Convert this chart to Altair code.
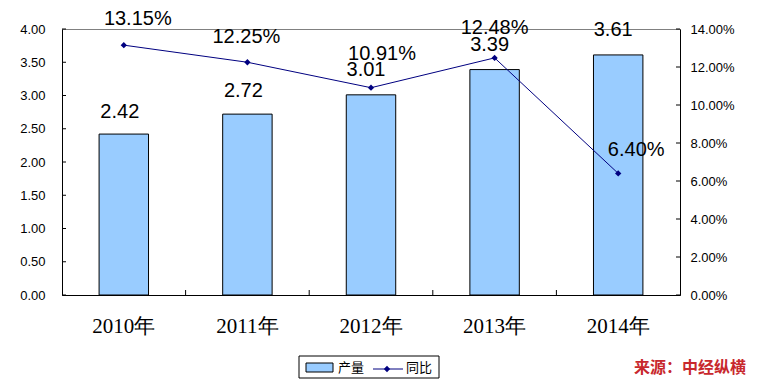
import altair as alt
import pandas as pd

years = ["2010年", "2011年", "2012年", "2013年", "2014年"]
output = [2.42, 2.72, 3.01, 3.39, 3.61]
growth = [0.1315, 0.1225, 0.1091, 0.1248, 0.0640]
output_labels = ["2.42", "2.72", "3.01", "3.39", "3.61"]
growth_labels = ["13.15%", "12.25%", "10.91%", "12.48%", "6.40%"]
left_ticks = [0, 0.5, 1.0, 1.5, 2.0, 2.5, 3.0, 3.5, 4.0]
right_ticks = [0, 0.02, 0.04, 0.06, 0.08, 0.10, 0.12, 0.14]
legend_names = ["产量", "同比"]
source_text = "来源：中经纵横"

W, H = 618, 266
NAVY = "#000080"
BAR = "#99CCFF"
SANS = "Liberation Sans"

# label nudges (pixels) as placed in the original chart
bar_label_nudge = [(-4, -12), (-4, -13), (-5, -15), (-5, -15), (-5, -15)]
growth_label_nudge = [(14, -16), (-1, -15), (11, -24), (0, -20), (18, -13)]

df = pd.DataFrame({"year": years, "output": output, "growth": growth,
                   "olab": output_labels, "glab": growth_labels})
lt = pd.DataFrame({"v": left_ticks})
rt = pd.DataFrame({"v": right_ticks})
bounds = pd.DataFrame({"year": years[1:]})
one = pd.DataFrame({"k": [0]})

xs = alt.Scale(domain=years, paddingInner=0, paddingOuter=0)
x_axis = alt.Axis(title=None, labelAngle=0, ticks=False, domainColor="black",
                  labelFont="Liberation Serif", labelFontSize=21, labelColor="black",
                  labelPadding=20, labelOverlap=False)
yl_scale = alt.Scale(domain=[0, 4], nice=False)
yr_scale = alt.Scale(domain=[0, 0.14], nice=False)
yl_axis = alt.Axis(title=None, values=left_ticks, format=".2f", ticks=False,
                   grid=False, domainColor="black", labelFont=SANS,
                   labelFontSize=13, labelColor="black", labelPadding=17,
                   labelOverlap=False, labelFlush=False, orient="left")
yr_axis = alt.Axis(title=None, values=right_ticks, format=".2%", ticks=False,
                   grid=False, domainColor="black", labelFont=SANS,
                   labelFontSize=13, labelColor="black", labelPadding=10,
                   labelOverlap=False, labelFlush=False, orient="right")

X = alt.X("year:N", scale=xs, axis=x_axis, sort=years)

bars = alt.Chart(df).mark_bar(width=alt.RelativeBandSize(0.4), fill=BAR,
                              stroke="black", strokeWidth=1).encode(
    x=X, y=alt.Y("output:Q", scale=yl_scale, axis=yl_axis))
bar_texts = [
    alt.Chart(df).transform_filter(alt.datum.year == years[i]).mark_text(
        font=SANS, fontSize=20, color="black", baseline="bottom",
        dx=bar_label_nudge[i][0], dy=bar_label_nudge[i][1]).encode(
        x=X, y=alt.Y("output:Q", scale=yl_scale, axis=yl_axis), text="olab:N")
    for i in range(len(years))
]
lticks = alt.Chart(lt).mark_rule(color="black", strokeWidth=1).encode(
    y=alt.Y("v:Q", scale=yl_scale, axis=yl_axis), x=alt.value(0), x2=alt.value(4))
xticks = alt.Chart(bounds).mark_rule(color="black", strokeWidth=1).encode(
    x=alt.X("year:N", scale=xs, axis=x_axis, sort=years, bandPosition=0),
    y=alt.value(H - 5), y2=alt.value(H))

left = alt.layer(bars, *bar_texts, lticks, xticks)

line = alt.Chart(df).mark_line(color=NAVY, strokeWidth=1).encode(
    x=X, y=alt.Y("growth:Q", scale=yr_scale, axis=yr_axis))
pts = alt.Chart(df).mark_point(shape="diamond", filled=True, color=NAVY, size=40,
                               opacity=1).encode(
    x=X, y=alt.Y("growth:Q", scale=yr_scale, axis=yr_axis))
line_texts = [
    alt.Chart(df).transform_filter(alt.datum.year == years[i]).mark_text(
        font=SANS, fontSize=20, color="black", baseline="bottom",
        dx=growth_label_nudge[i][0], dy=growth_label_nudge[i][1]).encode(
        x=X, y=alt.Y("growth:Q", scale=yr_scale, axis=yr_axis), text="glab:N")
    for i in range(len(years))
]
rticks = alt.Chart(rt).mark_rule(color="black", strokeWidth=1).encode(
    y=alt.Y("v:Q", scale=yr_scale, axis=yr_axis), x=alt.value(W - 4), x2=alt.value(W))

right = alt.layer(line, pts, *line_texts, rticks)

# legend
lg_box = alt.Chart(one).mark_rect(fill="white", stroke="black", strokeWidth=1).encode(
    x=alt.value(237), x2=alt.value(377), y=alt.value(327), y2=alt.value(349))
lg_sw = alt.Chart(one).mark_rect(fill=BAR, stroke="black", strokeWidth=1).encode(
    x=alt.value(244), x2=alt.value(271), y=alt.value(334), y2=alt.value(343))
lg_t1 = alt.Chart(one).mark_text(text=legend_names[0], font="Noto Sans CJK SC",
                                 fontSize=13, align="left", baseline="middle",
                                 color="black").encode(x=alt.value(276), y=alt.value(339))
lg_ln = alt.Chart(one).mark_rule(color=NAVY, strokeWidth=1).encode(
    x=alt.value(311), x2=alt.value(341), y=alt.value(340))
lg_pt = alt.Chart(one).mark_point(shape="diamond", filled=True, color=NAVY, size=40,
                                  opacity=1).encode(x=alt.value(325), y=alt.value(340))
lg_t2 = alt.Chart(one).mark_text(text=legend_names[1], font="Noto Sans CJK SC",
                                 fontSize=13, align="left", baseline="middle",
                                 color="black").encode(x=alt.value(344), y=alt.value(339))
src = alt.Chart(one).mark_text(text=source_text, font="Noto Sans CJK SC", fontSize=16,
                               fontWeight="bold", align="right", baseline="bottom",
                               color="#C8282D").encode(x=alt.value(684), y=alt.value(347))

deco = alt.layer(lg_box, lg_sw, lg_t1, lg_ln, lg_pt, lg_t2, src)

chart = alt.layer(left, right, deco).resolve_scale(y="independent").properties(
    width=W, height=H,
    autosize=alt.AutoSizeParams(type="none"),
    padding={"left": 54, "top": 21, "right": 70, "bottom": 85},
    background="white",
).configure_view(stroke="#808080", strokeWidth=1).configure_axis(labelOverlap=False)

chart.save("out.html", embed_options={"renderer": "svg", "actions": False})
